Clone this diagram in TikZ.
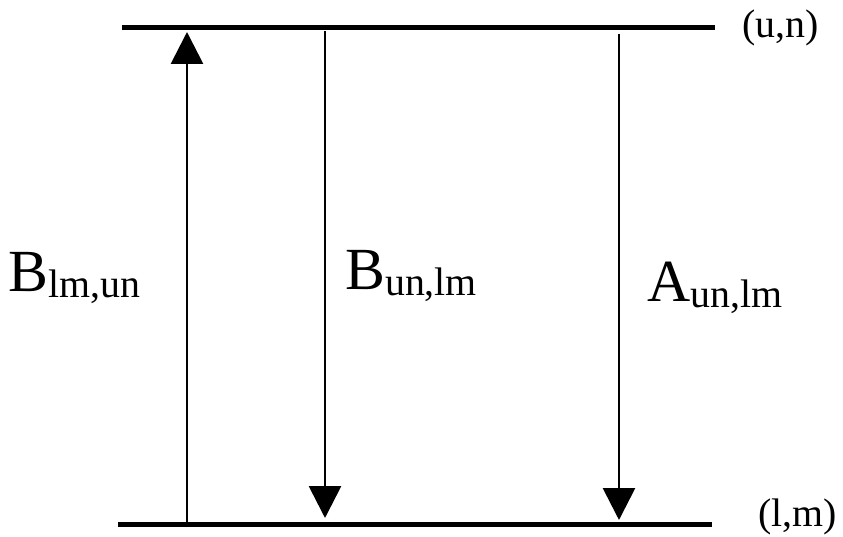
\documentclass[tikz,border=0pt]{standalone}
\usepackage{fontspec}
\setmainfont{Liberation Serif}
\usetikzlibrary{arrows.meta}
\begin{document}
\begin{tikzpicture}[x=1bp,y=-1bp,
  levelline/.style={line width=5bp},
  trans/.style={line width=2.8bp,-{Triangle[width=32bp,length=32bp]}},
  big/.style={font=\fontsize{60}{70}\selectfont, inner sep=0pt, anchor=base west},
  lvl/.style={font=\fontsize{40}{46}\selectfont, inner sep=0pt, anchor=west}]
\useasboundingbox (0,0) rectangle (843,537);
% levels
\coordinate (uL) at (122,28);
\coordinate (uR) at (715,28);
\coordinate (lL) at (118,524);
\coordinate (lR) at (712,524);
\draw[levelline] (uL) -- (uR);
\draw[levelline] (lL) -- (lR);
\node[lvl] (un) at (742,28) {(u,n)};
\node[lvl] (lm) at (758,517) {(l,m)};
% transitions
\coordinate (a1s) at (187,526);
\coordinate (a1e) at (187,32);
\coordinate (a2s) at (325,31);
\coordinate (a2e) at (325,518);
\coordinate (a3s) at (619,34);
\coordinate (a3e) at (619,520);
\draw[trans] (a1s) -- (a1e);
\draw[trans] (a2s) -- (a2e);
\draw[trans] (a3s) -- (a3e);
% labels
\newcommand{\subtxt}[1]{\raisebox{-6bp}{\fontsize{40}{48}\selectfont #1}}
\node[big] (blmun) at (8,292) {B\subtxt{lm,un}};
\node[big] (bunlm) at (345,290) {B\subtxt{un,lm}};
\node[big] (aunlm) at (647,302) {A\subtxt{un,lm}};
\end{tikzpicture}
\end{document}
